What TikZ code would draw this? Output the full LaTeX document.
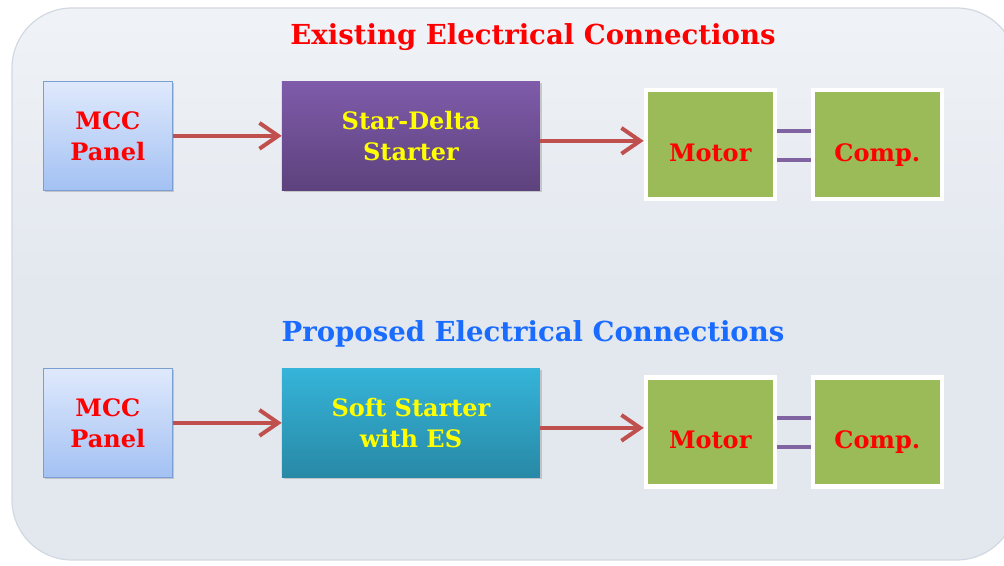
\documentclass[tikz,border=0pt]{standalone}
\usepackage{fontspec}
\setmainfont{DejaVu Serif}
\usetikzlibrary{arrows.meta, positioning, shadows}
\definecolor{panelfill}{HTML}{E3E8EF}
\definecolor{paneledge}{HTML}{D2D8E2}
\definecolor{mcctop}{HTML}{DFE9FC}
\definecolor{mccbottom}{HTML}{A3C1F3}
\definecolor{mccedge}{HTML}{7B9FD3}
\definecolor{sdtop}{HTML}{7F5BAA}
\definecolor{sdbottom}{HTML}{5D427D}
\definecolor{sstop}{HTML}{35B4D9}
\definecolor{ssbottom}{HTML}{2889A6}
\definecolor{motorgreen}{HTML}{9BBB59}
\definecolor{wirered}{HTML}{C0504D}
\definecolor{shaftpurple}{HTML}{8064A2}
\definecolor{titlered}{HTML}{FF0000}
\definecolor{titleblue}{HTML}{1A6BFF}
\definecolor{labelyellow}{HTML}{FFFF00}
\tikzset{
    panelbox/.style={
        rectangle, minimum width=3.87cm, minimum height=3.27cm,
        font=\bfseries\fontsize{20.5}{26.5}\selectfont, text=titlered, align=center,
        draw=mccedge, line width=0.6pt, top color=mcctop, bottom color=mccbottom,
        drop shadow={opacity=0.35, shadow xshift=1.5pt, shadow yshift=-1.5pt}
    },
    starterbox/.style={
        rectangle, minimum width=7.74cm, minimum height=3.27cm,
        font=\bfseries\fontsize{20.5}{26.5}\selectfont, text=labelyellow, align=center,
        top color=#1top, bottom color=#1bottom,
        drop shadow={opacity=0.35, shadow xshift=1.5pt, shadow yshift=-1.5pt}
    },
    machinebox/.style={
        rectangle, minimum width=3.87cm, minimum height=3.27cm,
        font=\bfseries\fontsize{20.5}{24}\selectfont, text=titlered,
        fill=motorgreen, draw=white, line width=3.5pt,
        text height=1.0cm, text depth=0cm,
        drop shadow={opacity=0.35, shadow xshift=1.5pt, shadow yshift=-1.5pt}
    },
    rowtitle/.style={
        font=\bfseries\fontsize{23.5}{26}\selectfont, text=#1
    },
    feedarrow/.style={
        -{Straight Barb[length=16pt, width=22pt, line width=3.4pt]},
        line width=3.4pt, color=wirered
    },
    shaftline/.style={
        line width=4pt, color=shaftpurple
    },
}
\begin{document}
\begin{tikzpicture}
    \useasboundingbox (0,0) rectangle (30.12,16.95);

    % Background panel
    \fill[white] (0,0) rectangle (30.12,16.95);
    \draw[paneledge, line width=1pt, top color=panelfill!55!white, bottom color=panelfill, middle color=panelfill, rounded corners=1.8cm]
        (0.36,0.15) rectangle (30.5,16.71);

    % Row 1: existing
    \node[rowtitle=titlered] (titleold) at (15.99,15.84) {Existing Electrical Connections};
    \node[panelbox, anchor=north west] (mccold) at (1.29,14.52) {MCC\\Panel};
    \node[starterbox=sd, right=3.27cm of mccold] (stardelta) {Star-Delta\\Starter};
    \node[machinebox, anchor=north west] (motorold) at (19.31,14.30) {Motor};
    \node[machinebox, right=1.02cm of motorold] (compold) {Comp.};

    % Row 2: proposed
    \node[rowtitle=titleblue] (titlenew) at (15.99,6.93) {Proposed Electrical Connections};
    \node[panelbox, below=5.32cm of mccold] (mccnew) {MCC\\Panel};
    \node[starterbox=ss, right=3.27cm of mccnew] (softstart) {Soft Starter\\with ES};
    \node[machinebox, below=5.22cm of motorold] (motornew) {Motor};
    \node[machinebox, right=1.02cm of motornew] (compnew) {Comp.};

    % Feeders
    \draw[feedarrow] (mccold) -- (stardelta);
    \draw[feedarrow] ([yshift=-0.15cm]stardelta.east) -- ([yshift=-0.15cm]stardelta.east -| motorold.west);
    \draw[feedarrow] (mccnew) -- (softstart);
    \draw[feedarrow] ([yshift=-0.15cm]softstart.east) -- ([yshift=-0.15cm]softstart.east -| motornew.west);

    % Couplings
    \draw[shaftline] ([yshift=0.42cm]motorold.east) -- ([yshift=0.42cm]compold.west);
    \draw[shaftline] ([yshift=-0.45cm]motorold.east) -- ([yshift=-0.45cm]compold.west);
    \draw[shaftline] ([yshift=0.42cm]motornew.east) -- ([yshift=0.42cm]compnew.west);
    \draw[shaftline] ([yshift=-0.45cm]motornew.east) -- ([yshift=-0.45cm]compnew.west);

\end{tikzpicture}
\end{document}
